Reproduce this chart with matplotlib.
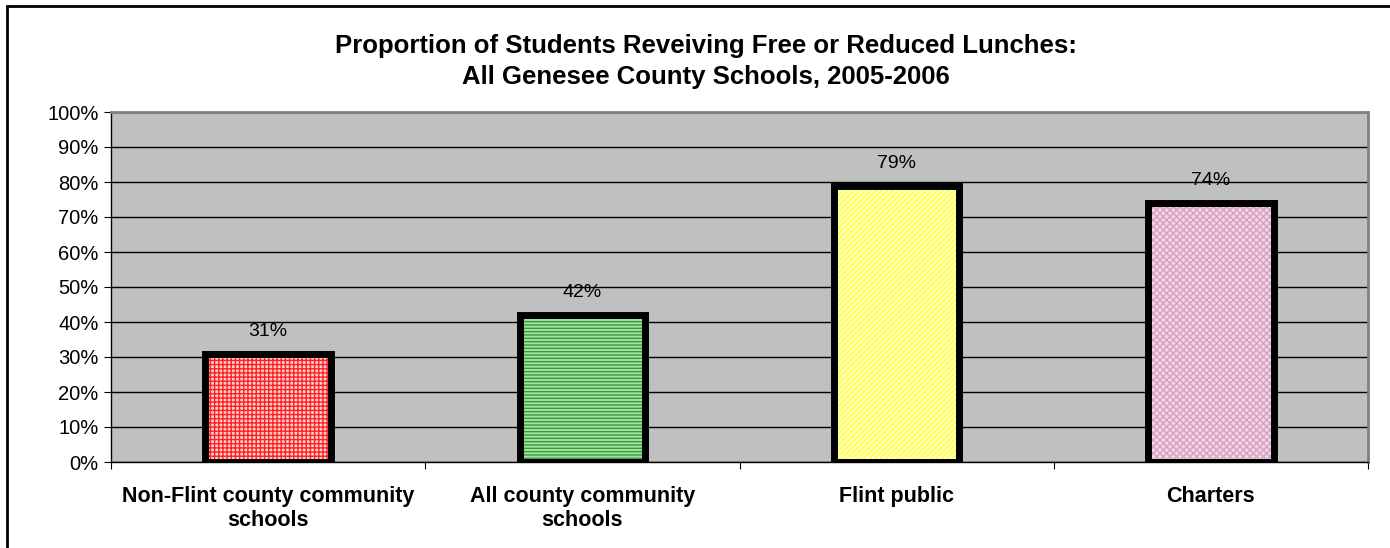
import matplotlib
matplotlib.use("Agg")
import matplotlib.pyplot as plt
from matplotlib.patches import Rectangle

categories = ["Non-Flint county community\nschools", "All county community\nschools", "Flint public", "Charters"]
values = [31, 42, 79, 74]
labels = ["31%", "42%", "79%", "74%"]
yticks = [0, 10, 20, 30, 40, 50, 60, 70, 80, 90, 100]
title = "Proportion of Students Reveiving Free or Reduced Lunches:\nAll Genesee County Schools, 2005-2006"

face_colors = ["#ffd0d0", "#a8dca8", "#ffffb8", "#f2d6e4"]
hatch_colors = ["#ff2020", "#30a030", "#ffff40", "#d8a0c0"]
hatches = ["++++", "-----", "//////", "xxxxx"]

plt.rcParams['font.family'] = ['Liberation Sans', 'DejaVu Sans']
plt.rcParams['hatch.linewidth'] = 1.0

fig = plt.figure(figsize=(13.9, 5.48), dpi=100)
ax = fig.add_axes([111/1390, 1-462/548, (1368-111)/1390, (462-112)/548])
ax.set_facecolor("#c0c0c0")

x = list(range(len(categories)))
ax.set_xlim(-0.5, len(categories) - 0.5)
ax.set_ylim(0, 100)
ax.set_axisbelow(True)
ax.yaxis.grid(True, color="black", linewidth=1.0)

w = 0.40
for i in x:
    ax.bar(i, values[i], width=w, color=face_colors[i], edgecolor=hatch_colors[i],
           hatch=hatches[i], linewidth=0, zorder=2)
ax.bar(x, values, width=w, fill=False, edgecolor="black", linewidth=5, zorder=3)

for i in x:
    ax.annotate(labels[i], (i, values[i]), xytext=(0, 10), textcoords="offset points",
                ha="center", va="bottom", fontsize=14)

ax.set_yticks(yticks)
ax.set_yticklabels([f"{v}%" for v in yticks], fontsize=14.5)
ax.set_xticks([i - 0.5 for i in range(len(categories) + 1)])
ax.set_xticklabels([])
ax.set_xticks(x, minor=True)
ax.set_xticklabels(categories, minor=True, fontsize=15.5, fontweight="bold", linespacing=1.22)
ax.tick_params(axis="x", which="minor", length=0, pad=17)
ax.tick_params(axis="x", which="major", length=5, direction="out", color="black")
ax.tick_params(axis="y", length=5, direction="out", pad=4)

for s in ["top", "right"]:
    ax.spines[s].set_color("#808080")
    ax.spines[s].set_linewidth(2)
for s in ["left", "bottom"]:
    ax.spines[s].set_color("black")
    ax.spines[s].set_linewidth(1)

fig.text(706/1390, 1-61.5/548, title, ha="center", va="center",
         fontsize=18.5, fontweight="bold", linespacing=1.35)

fig.patches.append(Rectangle((7/1390, -0.05), 1.2, 1-6/548+0.05, transform=fig.transFigure,
                             fill=False, edgecolor="black", linewidth=2))

fig.savefig("out.png", dpi=100)
